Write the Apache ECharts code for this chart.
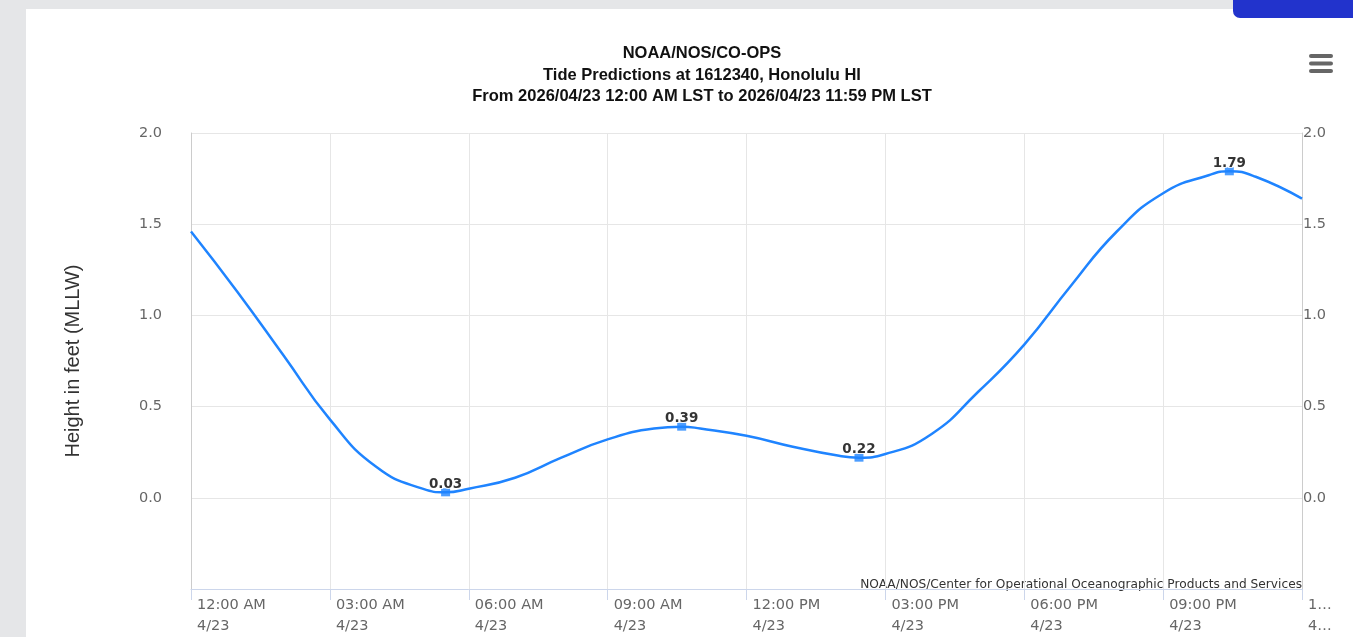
<!DOCTYPE html>
<html>
<head>
<meta charset="utf-8">
<title>Tide Predictions</title>
<script src="https://cdn.jsdelivr.net/npm/echarts@6/dist/echarts.min.js"></script>
<style>
  html, body { margin: 0; padding: 0; background: #e5e6e8; overflow: hidden; }
  #panel { position: absolute; left: 26px; top: 9px; width: 1327px; height: 628px; background: #fff; }
  #tab { position: absolute; left: 1233px; top: 0; width: 120px; height: 18px; background: #2233cc; border-bottom-left-radius: 7px; }
  #chart { position: absolute; left: 0; top: 0; width: 1353px; height: 637px; }
</style>
</head>
<body>
<div id="panel"></div>
<div id="tab"></div>
<div id="chart"></div>
<script>
// hourly predicted heights, 4/23, hours after midnight
const hours = [0, 1, 2, 3, 4, 5, 6, 7, 8, 9, 10, 11, 12, 13, 14, 15, 16, 17, 18, 19, 20, 21, 22, 23, 24];
const heights = [1.46, 1.13, 0.78, 0.43, 0.17, 0.05, 0.05, 0.11, 0.22, 0.32, 0.38, 0.38, 0.34, 0.28, 0.23, 0.24, 0.35, 0.58, 0.84, 1.16, 1.46, 1.67, 1.77, 1.76, 1.64];

// high / low tide points
const hiloHours = [5.5, 10.6, 14.43, 22.43];
const hiloValues = [0.03, 0.39, 0.22, 1.79];

const tickHours = [0, 3, 6, 9, 12, 15, 18, 21, 24];
const tickLabels = ['12:00 AM', '03:00 AM', '06:00 AM', '09:00 AM', '12:00 PM', '03:00 PM', '06:00 PM', '09:00 PM', '1…'];
const dayLabel = '4/23';

// the curve runs through the hourly points and the hi/lo points
let curve = hours.map((h, i) => [h, heights[i]]);
hiloHours.forEach((h, i) => curve.push([h, hiloValues[i]]));
curve.sort((a, b) => a[0] - b[0]);

const chart = echarts.init(document.getElementById('chart'));

const labelFont = 'DejaVu Sans';
const lineColor = '#1f84ff';

chart.setOption({
  animation: false,
  title: {
    text: 'NOAA/NOS/CO-OPS\nTide Predictions at 1612340, Honolulu HI\nFrom 2026/04/23 12:00 AM LST to 2026/04/23 11:59 PM LST',
    left: 697,
    top: 38,
    textAlign: 'center',
    textStyle: {
      fontFamily: 'Liberation Sans',
      fontWeight: 'bold',
      fontSize: 16.5,
      lineHeight: 21.5,
      color: '#111'
    }
  },
  grid: {
    left: 191,
    top: 133,
    width: 1111,
    height: 459
  },
  xAxis: {
    type: 'value',
    min: 0,
    max: 24,
    interval: 3,
    axisLine: { show: true, onZero: false, lineStyle: { color: '#ccd6eb', width: 1 } },
    axisTick: { show: true, length: 11, lineStyle: { color: '#ccd6eb' } },
    splitLine: { show: true, lineStyle: { color: '#e6e6e6' } },
    axisLabel: {
      margin: 6,
      align: 'left',
      padding: [0, 0, 0, 6],
      fontFamily: labelFont,
      fontSize: 14.5,
      lineHeight: 21,
      color: '#666',
      showMaxLabel: true,
      formatter: function (v) {
        const i = tickHours.indexOf(v);
        if (i < 0) return '';
        if (v === 24) return tickLabels[i] + '\n4…';
        return tickLabels[i] + '\n' + dayLabel;
      }
    }
  },
  yAxis: [
    {
      type: 'value',
      min: -0.5,
      max: 2,
      interval: 0.5,
      name: 'Height in feet (MLLW)',
      nameLocation: 'middle',
      nameGap: 108,
      nameTextStyle: {
        fontFamily: 'Liberation Sans',
        fontSize: 20,
        color: '#333'
      },
      axisLine: { show: true, onZero: false, lineStyle: { color: '#cccccc' } },
      axisTick: { show: false },
      splitLine: { show: true, lineStyle: { color: '#e6e6e6' } },
      axisLabel: {
        margin: 29,
        padding: [5, 0, 0, 0],
        fontFamily: labelFont,
        fontSize: 14.5,
        color: '#666',
        formatter: v => (v < 0 ? '' : v.toFixed(1))
      }
    },
    {
      type: 'value',
      position: 'right',
      min: -0.5,
      max: 2,
      interval: 0.5,
      axisLine: { show: true, onZero: false, lineStyle: { color: '#cccccc' } },
      axisTick: { show: false },
      splitLine: { show: false },
      axisLabel: {
        margin: 1,
        padding: [5, 0, 0, 0],
        fontFamily: labelFont,
        fontSize: 14.5,
        color: '#666',
        formatter: v => (v < 0 ? '' : v.toFixed(1))
      }
    }
  ],
  series: [
    {
      name: 'Predictions',
      type: 'line',
      data: curve,
      smooth: 0.5,
      showSymbol: false,
      lineStyle: { color: lineColor, width: 2.5 },
      z: 2
    },
    {
      name: 'Hi/Lo',
      type: 'scatter',
      data: hiloHours.map((h, i) => [h, hiloValues[i]]),
      symbol: 'rect',
      symbolSize: [9, 8],
      itemStyle: { color: lineColor },
      label: {
        show: true,
        position: 'top',
        distance: -3,
        fontFamily: labelFont,
        fontWeight: 'bold',
        fontSize: 13.5,
        color: '#000',
        textBorderColor: '#fff',
        textBorderWidth: 2,
        formatter: p => p.value[1].toFixed(2)
      },
      z: 3
    }
  ],
  graphic: [
    {
      type: 'text',
      right: 51,
      top: 579,
      style: {
        text: 'NOAA/NOS/Center for Operational Oceanographic Products and Services',
        fontFamily: labelFont,
        fontSize: 12.2,
        fill: '#333'
      }
    },
    { type: 'rect', left: 1309, top: 54, shape: { width: 24, height: 4, r: 2 }, style: { fill: '#666' } },
    { type: 'rect', left: 1309, top: 61.5, shape: { width: 24, height: 4, r: 2 }, style: { fill: '#666' } },
    { type: 'rect', left: 1309, top: 69, shape: { width: 24, height: 4, r: 2 }, style: { fill: '#666' } }
  ]
});
</script>
</body>
</html>
